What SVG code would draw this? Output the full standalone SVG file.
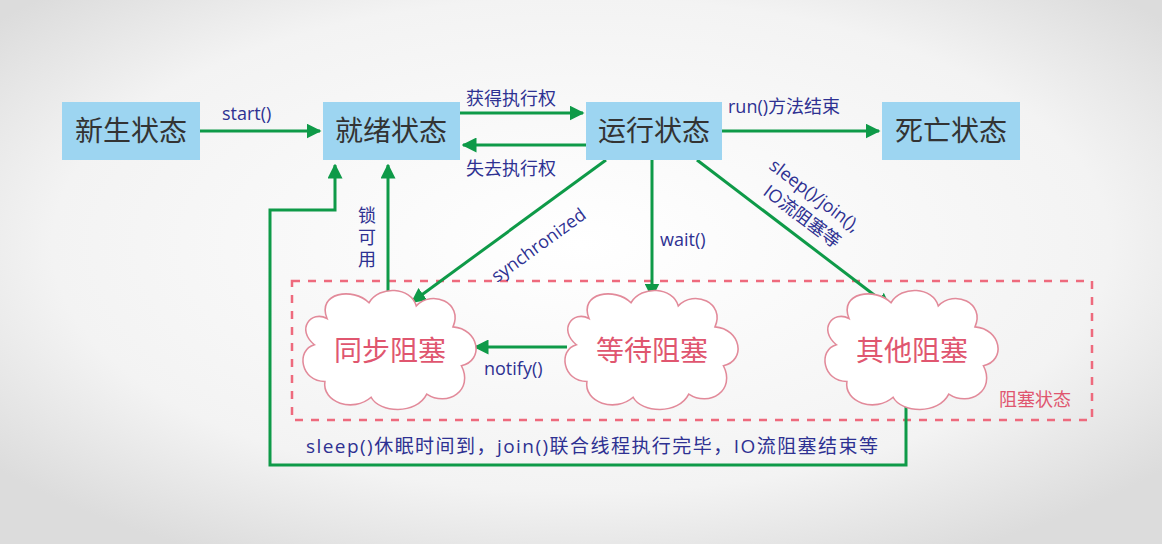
<svg xmlns="http://www.w3.org/2000/svg" width="1162" height="544" viewBox="0 0 1162 544">
<defs>
<radialGradient id="bg" cx="50%" cy="45%" r="65%"><stop offset="0" stop-color="#ffffff"/><stop offset="0.7" stop-color="#f3f3f3"/><stop offset="1" stop-color="#dcdcdc"/></radialGradient>
<marker id="ah" viewBox="0 0 10 10" refX="9" refY="5" markerWidth="5" markerHeight="5" orient="auto" markerUnits="strokeWidth"><path d="M0,0 L10,5 L0,10 z" fill="#0e9a48"/></marker>
<path id="cloud" d="M-60,-30 C-70,-55 -35,-60 -20,-45 C-10,-62 20,-60 25,-42 C40,-58 70,-45 60,-22 C85,-20 90,10 68,15 C80,38 55,55 35,42 C25,62 -10,60 -18,45 C-35,60 -65,50 -62,30 C-85,30 -90,0 -72,-5 C-90,-20 -75,-38 -60,-30 z" fill="#fff" stroke="#e28a9a" stroke-width="1.5"/>
<style>
.box{fill:#9dd5f1}
.bt{font-family:"Noto Sans CJK SC",sans-serif;font-size:28px;fill:#333;text-anchor:middle}
.ct{font-family:"Noto Sans CJK SC",sans-serif;font-size:28px;fill:#e0566f;text-anchor:middle}
.lb{font-family:"Open Sans","Noto Sans CJK SC",sans-serif;font-size:18px;fill:#2e3192}
.ln{stroke:#0e9a48;stroke-width:3;fill:none;marker-end:url(#ah)}
</style>
</defs>
<rect width="1162" height="544" fill="url(#bg)"/>
<rect x="292" y="281" width="800" height="139" fill="none" stroke="#ee6a7d" stroke-width="2.5" stroke-dasharray="8,8"/>
<text x="1035" y="406" font-family="Noto Sans CJK SC,sans-serif" font-size="18" fill="#e0566f" text-anchor="middle">阻塞状态</text>
<g id="connectors">
<path class="ln" d="M200,131 H320"/>
<path class="ln" d="M460,113 H583"/>
<path class="ln" d="M586,145 H463"/>
<path class="ln" d="M722,131 H879"/>
<path class="ln" d="M606,160 L412,302"/>
<path class="ln" d="M652,160 V297"/>
<path class="ln" d="M697,160 L890,307"/>
<path class="ln" d="M567,347 H475"/>
<path class="ln" d="M388,297 V165"/>
<path class="ln" d="M906,405 V465 H270 V210 H335 V165"/>
</g>
<g class="lb">
<text x="222" y="120">start()</text>
<text x="466" y="105">获得执行权</text>
<text x="466" y="175">失去执行权</text>
<text x="728" y="113">run()方法结束</text>
<text x="660" y="246">wait()</text>
<text x="484" y="375">notify()</text>
<text x="497" y="283" transform="rotate(-36 497 283)">synchronized</text>
<text x="768" y="168" transform="rotate(37 768 168)">sleep()/join(),</text>
<text x="762" y="194" transform="rotate(37 762 194)">IO流阻塞等</text>
<text x="367" y="222" text-anchor="middle">锁</text>
<text x="367" y="244" text-anchor="middle">可</text>
<text x="367" y="266" text-anchor="middle">用</text>
<text x="592" y="453" text-anchor="middle" font-size="19" textLength="572">sleep()休眠时间到，join()联合线程执行完毕，IO流阻塞结束等</text>
</g>
<g id="n1"><rect class="box" x="62" y="102" width="138" height="58"/><text class="bt" x="131" y="141">新生状态</text></g>
<g id="n2"><rect class="box" x="323" y="102" width="137" height="58"/><text class="bt" x="391" y="141">就绪状态</text></g>
<g id="n3"><rect class="box" x="586" y="102" width="136" height="58"/><text class="bt" x="654" y="141">运行状态</text></g>
<g id="n4"><rect class="box" x="882" y="102" width="138" height="58"/><text class="bt" x="951" y="141">死亡状态</text></g>
<g id="c1"><use href="#cloud" transform="translate(390,350) scale(1.05)"/><text class="ct" x="390" y="361">同步阻塞</text></g>
<g id="c2"><use href="#cloud" transform="translate(652,350) scale(1.05)"/><text class="ct" x="652" y="361">等待阻塞</text></g>
<g id="c3"><use href="#cloud" transform="translate(912,350) scale(1.05)"/><text class="ct" x="912" y="361">其他阻塞</text></g>
</svg>
